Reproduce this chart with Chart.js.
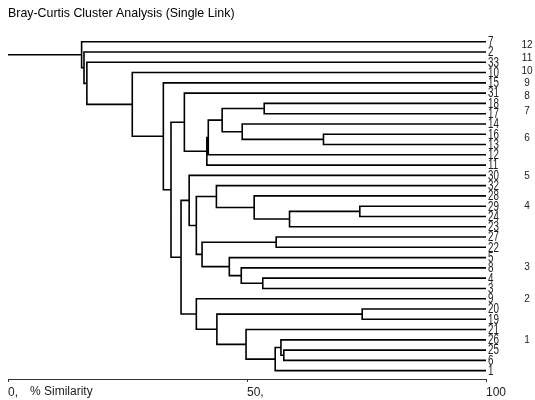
<!DOCTYPE html>
<html>
<head>
<meta charset="utf-8">
<script src="https://cdn.jsdelivr.net/npm/chart.js@4.4.1/dist/chart.umd.min.js"></script>
<style>
  html, body { margin: 0; padding: 0; background: #fff; }
</style>
</head>
<body>
<canvas id="dendro" width="535" height="400"></canvas>
<script>
// merge table, hclust style: negative = single sample, positive = earlier step (1-based)
const mergeLeft  = [-20, -29, -16, 2, -25, -26, -27, 6, -18, -4, -28, -21, -14, -8, -5, 9, 1, -32, 16, 19, 7, 18, -9, -30, -31, 24, 25, -15, -10, -33, -2, -7];
const mergeRight = [-19, -24, -13, -23, -6, 5, -22, -1, -17, -3, 4, 8, 3, 10, 14, 13, 12, 11, -12, -11, 15, 21, 17, 22, 20, 23, 26, 27, 28, 29, 30, 31];
const mergeSimilarity = [74.1, 73.6, 66.0, 58.9, 57.7, 57.1, 56.1, 55.9, 53.6, 53.3, 51.5, 49.8, 49.0, 48.8, 46.3, 44.8, 43.7, 43.6, 41.9, 41.6, 40.6, 39.4, 39.4, 37.9, 36.9, 36.2, 34.1, 32.5, 26.0, 16.5, 15.9, 15.4];

// group numbers down the right margin, and the row (in leaf units) they sit on
const groupNumbers = [12, 11, 10, 9, 8, 7, 6, 5, 4, 3, 2, 1];
const groupRows = [0.32, 1.6, 2.92, 4.05, 5.35, 6.74, 9.37, 13.13, 16.05, 21.9, 25.1, 29.0];

const xTicks = [0, 50, 100];
const xTickLabels = ['0,', '50,', '100'];

const FONT = '"Liberation Sans", Arial, sans-serif';

// leaf order from walking the tree
const leafOrder = [];
function walk(id) {
    if (id < 0) { leafOrder.push(-id); return; }
    walk(mergeLeft[id - 1]);
    walk(mergeRight[id - 1]);
}
const rootId = mergeSimilarity.length;
walk(rootId);

function rowOf(id) {
    if (id < 0) return leafOrder.indexOf(-id);
    return (rowOf(mergeLeft[id - 1]) + rowOf(mergeRight[id - 1])) / 2;
}
function simOf(id) {
    return id < 0 ? 100 : mergeSimilarity[id - 1];
}

// each merge is one bracket, gaps (null) between brackets
const segments = [];
mergeSimilarity.forEach((s, i) => {
    const a = mergeLeft[i], b = mergeRight[i];
    segments.push(
        {x: simOf(a), y: rowOf(a)},
        {x: s, y: rowOf(a)},
        {x: s, y: rowOf(b)},
        {x: simOf(b), y: rowOf(b)},
        {x: null, y: null}
    );
});
segments.push({x: 0, y: rowOf(rootId)}, {x: simOf(rootId), y: rowOf(rootId)});

const extraText = {
    id: 'extraText',
    afterDraw(chart) {
        const ctx = chart.ctx;
        const x = chart.scales.x, y = chart.scales.y;
        ctx.save();
        ctx.fillStyle = '#222';
        ctx.textBaseline = 'middle';

        // leaf names: tall narrow digits like the original
        ctx.textAlign = 'left';
        ctx.font = '14px ' + FONT;
        leafOrder.forEach((leaf, i) => {
            ctx.save();
            ctx.translate(x.right + 2, y.getPixelForValue(i) + 0.5);
            ctx.scale(0.7, 1);
            ctx.fillText(String(leaf), 0, 0);
            ctx.restore();
        });

        ctx.textAlign = 'center';
        ctx.font = '10px ' + FONT;
        groupNumbers.forEach((g, i) => {
            ctx.fillText(String(g), 527, y.getPixelForValue(groupRows[i]));
        });

        ctx.textAlign = 'left';
        ctx.font = '12px ' + FONT;
        ctx.fillText('% Similarity', x.getPixelForValue(0) + 22, 392);
        ctx.restore();
    }
};

const ctx = document.getElementById('dendro').getContext('2d');
new Chart(ctx, {
    type: 'scatter',
    data: {
        datasets: [{
            data: segments,
            showLine: true,
            spanGaps: false,
            borderColor: '#000',
            borderWidth: 1.6,
            borderJoinStyle: 'miter',
            pointRadius: 0,
            pointHoverRadius: 0
        }]
    },
    options: {
        responsive: false,
        animation: false,
        events: [],
        layout: { padding: { left: 8, right: 0, top: 0, bottom: 0 } },
        plugins: {
            legend: { display: false },
            tooltip: { enabled: false },
            title: {
                display: true,
                text: 'Bray-Curtis Cluster Analysis (Single Link)',
                align: 'start',
                color: '#000',
                font: { family: FONT, size: 12.4, weight: 'normal' },
                padding: { top: 6, bottom: 4.2 }
            }
        },
        scales: {
            x: {
                type: 'linear',
                min: 0,
                max: 100,
                afterBuildTicks: s => { s.ticks = xTicks.map(v => ({ value: v })); },
                afterFit: s => { s.height = 21; },
                ticks: {
                    align: 'start',
                    autoSkip: false,
                    maxRotation: 0,
                    padding: 3,
                    color: '#222',
                    font: { family: FONT, size: 12 },
                    callback: v => xTickLabels[xTicks.indexOf(v)]
                },
                grid: { display: true, drawOnChartArea: false, drawTicks: true, tickLength: 3, color: '#333' },
                border: { display: true, color: '#333', width: 1 }
            },
            y: {
                type: 'linear',
                position: 'right',
                reverse: true,
                min: -1.62,
                max: 32.81,
                afterBuildTicks: s => { s.ticks = leafOrder.map((l, i) => ({ value: i })); },
                afterFit: s => { s.width = 49; },
                ticks: { display: false },
                grid: { display: false, drawTicks: false },
                border: { display: false }
            }
        }
    },
    plugins: [extraText]
});
</script>
</body>
</html>
